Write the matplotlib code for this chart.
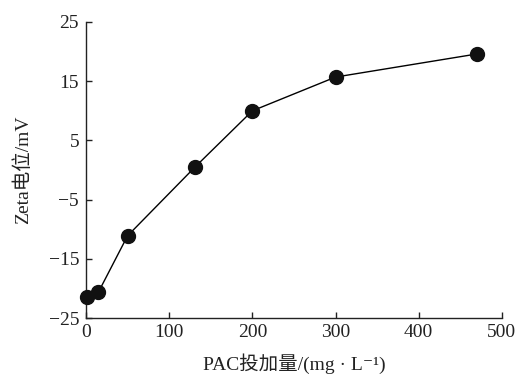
"""Zeta 电位随 PAC 投加量变化曲线。"""

import matplotlib

matplotlib.use("Agg")
import matplotlib.pyplot as plt

plt.rcParams["font.family"] = ["Liberation Serif", "Noto Sans CJK SC", "DejaVu Serif"]
plt.rcParams["axes.unicode_minus"] = True

dose = [1, 15, 50, 131, 200, 300, 470]
zeta = [-21.4, -20.6, -11.1, 0.5, 10.0, 15.7, 19.6]
x_ticks = [0, 100, 200, 300, 400, 500]
y_ticks = [-25, -15, -5, 5, 15, 25]

fig = plt.figure(figsize=(5.19, 3.76), dpi=100)
ax = fig.add_axes([0.1657, 0.154, 0.8013, 0.7875])

ax.plot(dose, zeta, color="black", linewidth=1.0, marker="o",
        markersize=10, markerfacecolor="#111111", markeredgecolor="#111111",
        zorder=3, clip_on=False)

ax.set_xlim(0, 500)
ax.set_ylim(-25, 25)
ax.set_xticks(x_ticks)
ax.set_yticks(y_ticks)
ax.set_xticklabels([str(t) for t in x_ticks])
ax.set_yticklabels([f"{t}".replace("-", "\u2212") for t in y_ticks])

for side in ("top", "right"):
    ax.spines[side].set_visible(False)
for side in ("left", "bottom"):
    ax.spines[side].set_linewidth(1.0)
    ax.spines[side].set_color("#222222")

ax.tick_params(direction="in", length=4, width=1, labelsize=14, pad=4,
               colors="#222222")
ax.tick_params(axis="y", pad=5)

ax.set_xlabel("PAC投加量/(mg · L⁻¹)", fontsize=14, labelpad=9, color="#222222")
ax.set_ylabel("Zeta电位/mV", fontsize=14, labelpad=12, color="#222222")

fig.savefig("out.png", dpi=100)
